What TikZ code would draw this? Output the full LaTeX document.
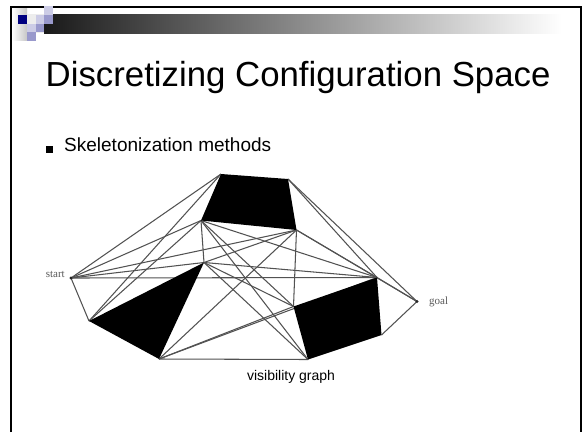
\documentclass[tikz,border=0pt]{standalone}
\usepackage{fontspec}
\setmainfont{Liberation Sans}
\newfontfamily\seriffont{Liberation Serif}
\definecolor{logonavy}{RGB}{0,0,128}
\definecolor{logolight}{RGB}{204,204,230}
\definecolor{logomid}{RGB}{153,153,204}
\begin{document}
\begin{tikzpicture}[x=1pt,y=-1pt]
\tikzset{
  vis/.style={draw=black!68, line width=1.05pt},
  obst/.style={fill=black},
  framepart/.style={draw=black, line width=2pt},
  lbl/.style={font=\seriffont\fontsize{11}{12}\selectfont, text=black!65, inner sep=0pt},
  cell/.style={inner sep=0pt, minimum size=8.6pt, anchor=north west},
}
\useasboundingbox (0,0) rectangle (582,432);
\fill[white] (0,0) rectangle (582,432);

% slide frame
\coordinate (fl) at (11,432);
\coordinate (ftl) at (11,7);
\coordinate (ftr) at (580.5,7);
\coordinate (fr) at (580.5,432);
\draw[framepart] (fl) -- (ftl) -- (ftr) -- (fr);

% header bar and logo
\fill[left color=white, right color=black!22] (12,8) rectangle (27,40);
\fill[black!7] (27,14) rectangle (44,33);
\fill[left color=black!90, right color=white] (44,14) rectangle (562,33);
\node[cell, fill=logonavy]  (q1) at (18,15) {};
\node[cell, fill=logolight] (q2) at (35.3,15) {};
\node[cell, fill=logolight] (q3) at (44,6) {};
\node[cell, fill=logomid]   (q4) at (44,15) {};
\node[cell, fill=logolight] (q5) at (26.7,23.6) {};
\node[cell, fill=logomid]   (q6) at (35.3,23.6) {};
\node[cell, fill=logomid]   (q7) at (26.7,32.2) {};

% title and bullet
\node[anchor=base west, inner sep=0pt, font=\fontsize{34.8}{40}\selectfont] (title) at (45.5,86) {Discretizing Configuration Space};
\node[fill=black, inner sep=0pt, minimum size=7pt, anchor=north west] (bullet) at (45.4,145.8) {};
\node[anchor=base west, inner sep=0pt, font=\fontsize{19}{22}\selectfont] (item) at (64,151.7) {Skeletonization methods};

% vertices of the visibility graph
\coordinate (S) at (71,278);
\coordinate (T) at (417,301.5);
\coordinate (A) at (89,321);
\coordinate (B) at (204,262.5);
\coordinate (C) at (159,359);
\coordinate (D) at (221,174);
\coordinate (F) at (288,179);
\coordinate (G) at (296.5,230);
\coordinate (E) at (201,220.5);
\coordinate (H) at (293.5,306.5);
\coordinate (I) at (377,277.5);
\coordinate (J) at (381.5,335);
\coordinate (K) at (308,359.5);

% visibility edges
\foreach \u/\v in {S/A,S/B,S/D,S/E,S/G,S/I,
                   A/D,A/E,
                   B/E,B/G,B/H,B/I,B/K,
                   C/G,C/H,C/I,C/K,
                   E/H,E/I,E/K,
                   F/I,F/T,
                   G/H,G/I,G/T,
                   I/T,J/T}
  \draw[vis] (\u) -- (\v);

% obstacles
\fill[obst] (A) -- (B) -- (C) -- cycle;
\fill[obst] (D) -- (F) -- (G) -- (E) -- cycle;
\fill[obst] (H) -- (I) -- (J) -- (K) -- cycle;

% start and goal points
\fill[black!85] (S) circle (1.6);
\fill[black!85] (T) circle (1.6);
\node[lbl, anchor=base east] (startlbl) at (65,277.5) {start};
\node[lbl, anchor=base west] (goallbl) at (429,304) {goal};

% caption
\node[anchor=base, inner sep=0pt, font=\fontsize{14}{16}\selectfont] (caption) at (291,380) {visibility graph};
\end{tikzpicture}
\end{document}
